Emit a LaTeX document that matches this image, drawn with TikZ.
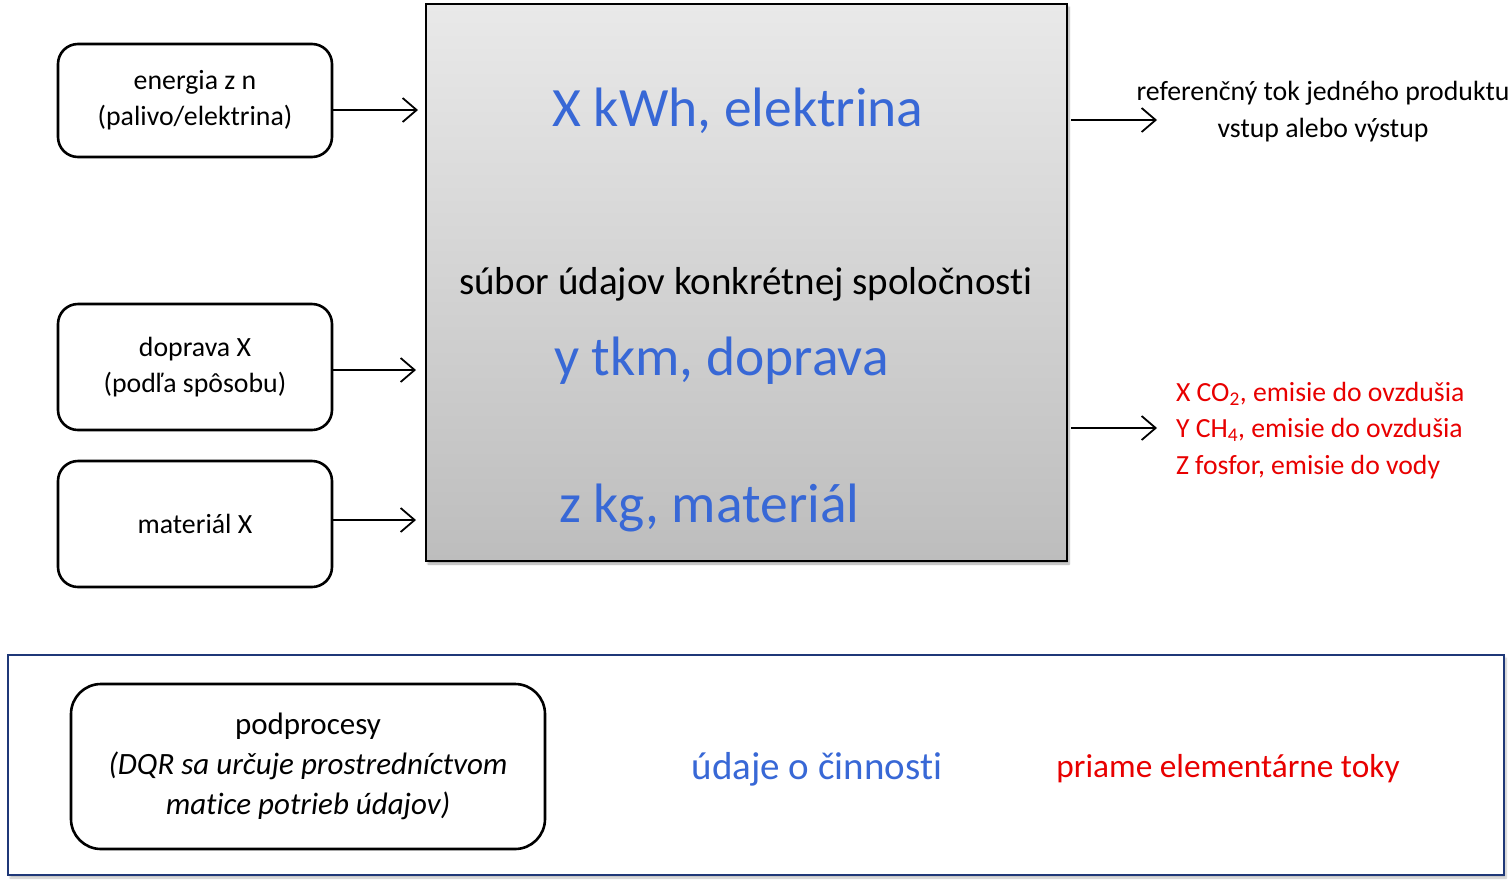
\documentclass[tikz,border=0pt]{standalone}
\usepackage{fontspec}
\setmainfont{Carlito}[Ligatures={NoCommon}]
\usetikzlibrary{arrows.meta,shadows.blur}
\definecolor{txtblue}{RGB}{56,104,214}
\definecolor{txtred}{RGB}{232,0,0}
\definecolor{frameblue}{RGB}{31,56,120}
\tikzset{
  inbox/.style={draw=black, line width=2.6pt, rounded corners=20pt, fill=white},
  flow/.style={line width=1.8pt, -{Straight Barb[length=14pt,width=24pt,line width=1.8pt]}},
  plain/.style={inner sep=0pt, outer sep=0pt},
}
\begin{document}
\begin{tikzpicture}[x=1pt,y=-1pt]
\useasboundingbox (0,0) rectangle (1512,887);
% main process box
\path[blur shadow={shadow xshift=2pt,shadow yshift=-3pt,shadow blur steps=6,shadow opacity=35}]
  (426,4) rectangle (1067,561);
\shade[top color={rgb,255:red,233;green,233;blue,233}, bottom color={rgb,255:red,189;green,189;blue,189}]
  (426,4) rectangle (1067,561);
\draw[line width=2.2pt] (426,4) coordinate (mtl) rectangle (1067,561) coordinate (mbr);
\coordinate (m1) at (426,110);
\coordinate (m2) at (426,370);
\coordinate (m3) at (426,520);
\coordinate (o1) at (1067,120);
\coordinate (o2) at (1067,428);

\node[plain, font=\fontsize{55.5}{66}\selectfont, text=txtblue] (t1) at (738,111) {X kWh, elektrina};
\node[plain, font=\fontsize{39}{46}\selectfont] (t2) at (746,284.5) {súbor údajov konkrétnej spoločnosti};
\node[plain, font=\fontsize{55.5}{66}\selectfont, text=txtblue, anchor=west] (t3) at (554,361) {y tkm, doprava};
\node[plain, font=\fontsize{55.5}{66}\selectfont, text=txtblue, anchor=west] (t4) at (559,508) {z kg, materiál};

% left input boxes
\node[inbox, minimum width=274pt, minimum height=113pt, align=center, font=\fontsize{27.8}{36}\selectfont] (b1) at (195,100.5) {energia z n\\(palivo/elektrina)};
\node[inbox, minimum width=274pt, minimum height=126pt, align=center, font=\fontsize{27.8}{36}\selectfont] (b2) at (195,367) {doprava X\\(podľa spôsobu)};
\node[inbox, minimum width=274pt, minimum height=126pt, align=center, font=\fontsize{27.8}{36}\selectfont] (b3) at (195,524) {materiál X};

\draw[flow] (b1.east |- m1) -- ([xshift=-8pt]m1);
\draw[flow] (b2.east |- m2) -- ([xshift=-10pt]m2);
\draw[flow] (b3.east |- m3) -- ([xshift=-10pt]m3);

% outputs
\coordinate (e1) at (1157,120);
\coordinate (e2) at (1157,428);
\draw[flow] ([xshift=4pt]o1) -- (e1);
\draw[flow] ([xshift=4pt]o2) -- (e2);

\node[plain, align=center, font=\fontsize{27.8}{37}\selectfont] (r1) at (1323,112) {referenčný tok jedného produktu\\vstup alebo výstup};
\node[plain, align=left, anchor=west, text=txtred, font=\fontsize{27.7}{36.5}\selectfont] (r2) at (1176,430.5)
  {X CO\textsubscript{2}, emisie do ovzdušia\\Y CH\textsubscript{4}, emisie do ovzdušia\\Z fosfor, emisie do vody};

% legend frame
\path[blur shadow={shadow xshift=2pt,shadow yshift=-3pt,shadow blur steps=6,shadow opacity=25}, fill=white]
  (8,655) rectangle (1504,875);
\draw[draw=frameblue, line width=2pt] (8,655) coordinate (ftl) rectangle (1504,875) coordinate (fbr);

\node[inbox, rounded corners=30pt, minimum width=474pt, minimum height=165pt, align=center, font=\fontsize{31}{40}\selectfont] (leg1) at (308,766.5)
  {podprocesy\\{\itshape (DQR sa určuje prostredníctvom}\\{\itshape matice potrieb údajov)}};
\node[plain, text=txtblue, font=\fontsize{39}{46}\selectfont] (leg2) at (817,769) {údaje o činnosti};
\node[plain, text=txtred, font=\fontsize{33.3}{40}\selectfont] (leg3) at (1228,768.5) {priame elementárne toky};
\end{tikzpicture}
\end{document}
